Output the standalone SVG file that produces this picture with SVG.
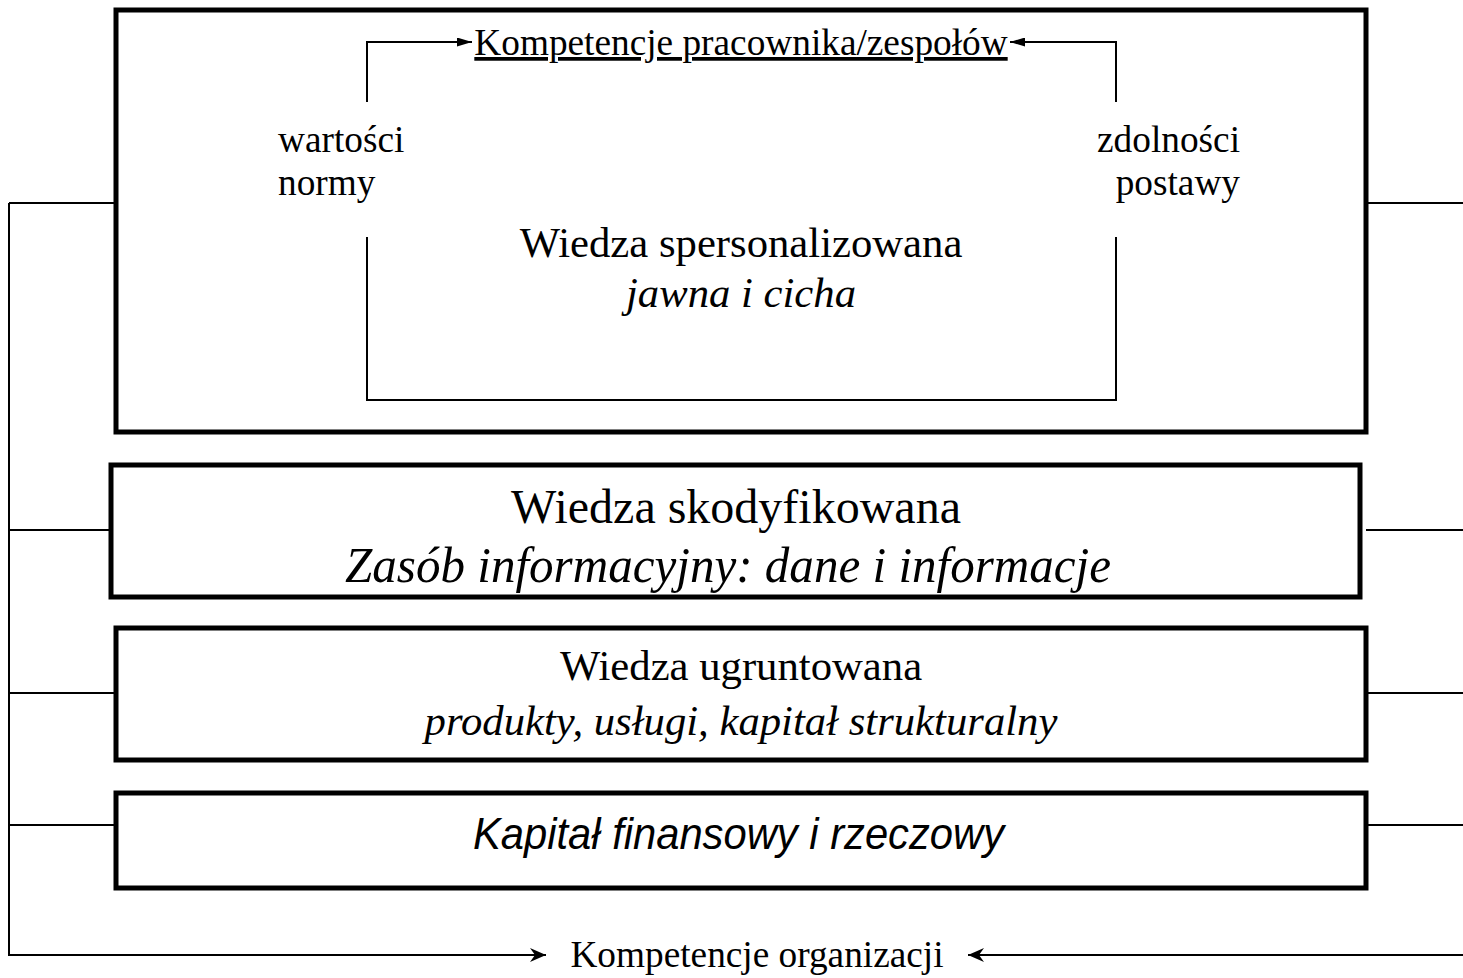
<svg xmlns="http://www.w3.org/2000/svg" width="1463" height="978" viewBox="0 0 1463 978">
<style>
.box{fill:none;stroke:#000;stroke-width:5}
.ln{fill:none;stroke:#000;stroke-width:2}
.t{font-family:"Liberation Serif","Times New Roman",serif;fill:#000}
.s{font-family:"Liberation Sans",Arial,sans-serif;fill:#000}
</style>
<defs>
<marker id="ah" viewBox="0 0 15 9" refX="15" refY="4.5" markerWidth="15" markerHeight="9" markerUnits="userSpaceOnUse" orient="auto">
<path d="M0,0 L15,4.5 L0,9 Z" fill="#000"/>
</marker>
<marker id="ah2" viewBox="0 0 16 14" refX="16" refY="7" markerWidth="16" markerHeight="14" markerUnits="userSpaceOnUse" orient="auto">
<path d="M0,0 L16,7 L0,14 L5,7 Z" fill="#000"/>
</marker>
</defs>
<g id="connectors">
<polyline class="ln" points="367,102 367,42 472,42" marker-end="url(#ah)"/>
<polyline class="ln" points="1116,102 1116,42 1010,42" marker-end="url(#ah)"/>
<polyline class="ln" points="367,237 367,400 1116,400 1116,237"/>
<line class="ln" x1="9" y1="203" x2="116" y2="203"/>
<line class="ln" x1="9" y1="530" x2="111" y2="530"/>
<line class="ln" x1="9" y1="693" x2="116" y2="693"/>
<line class="ln" x1="9" y1="825" x2="116" y2="825"/>
<polyline class="ln" points="9,203 9,955 546,955" marker-end="url(#ah2)"/>
<line class="ln" x1="1366" y1="203" x2="1463" y2="203"/>
<line class="ln" x1="1366" y1="530" x2="1463" y2="530"/>
<line class="ln" x1="1366" y1="693" x2="1463" y2="693"/>
<line class="ln" x1="1366" y1="825" x2="1463" y2="825"/>
<line class="ln" x1="1463" y1="955" x2="968" y2="955" marker-end="url(#ah2)"/>
</g>
<g id="personalizowana">
<rect class="box" x="116" y="10" width="1250" height="422"/>
<text class="t" x="741" y="55" font-size="37.3" text-anchor="middle" text-decoration="underline">Kompetencje pracownika/zespołów</text>
<text class="t" x="278" y="152" font-size="37.3">wartości</text>
<text class="t" x="278" y="195" font-size="37.3">normy</text>
<text class="t" x="1240" y="152" font-size="37.3" text-anchor="end">zdolności</text>
<text class="t" x="1240" y="195" font-size="37.3" text-anchor="end">postawy</text>
<text class="t" x="741" y="257" font-size="42.7" text-anchor="middle">Wiedza spersonalizowana</text>
<text class="t" x="741" y="307" font-size="42.7" text-anchor="middle" font-style="italic">jawna i cicha</text>
</g>
<g id="skodyfikowana">
<rect class="box" x="111" y="465" width="1249" height="132"/>
<text class="t" x="736" y="523" font-size="48" text-anchor="middle">Wiedza skodyfikowana</text>
<text class="t" x="345" y="582" font-size="51" font-style="italic" textLength="766" lengthAdjust="spacingAndGlyphs">Zasób informacyjny: dane i informacje</text>
</g>
<g id="ugruntowana">
<rect class="box" x="116" y="628" width="1250" height="132"/>
<text class="t" x="741" y="680" font-size="42.7" text-anchor="middle">Wiedza ugruntowana</text>
<text class="t" x="741" y="735" font-size="42.7" text-anchor="middle" font-style="italic">produkty, usługi, kapitał strukturalny</text>
</g>
<g id="kapital">
<rect class="box" x="116" y="793" width="1250" height="95"/>
<text class="s" x="473" y="849" font-size="44" font-style="italic" textLength="531" lengthAdjust="spacingAndGlyphs">Kapitał finansowy i rzeczowy</text>
</g>
<g id="organizacji">
<text class="t" x="757" y="967" font-size="37.3" text-anchor="middle">Kompetencje organizacji</text>
</g>
</svg>
